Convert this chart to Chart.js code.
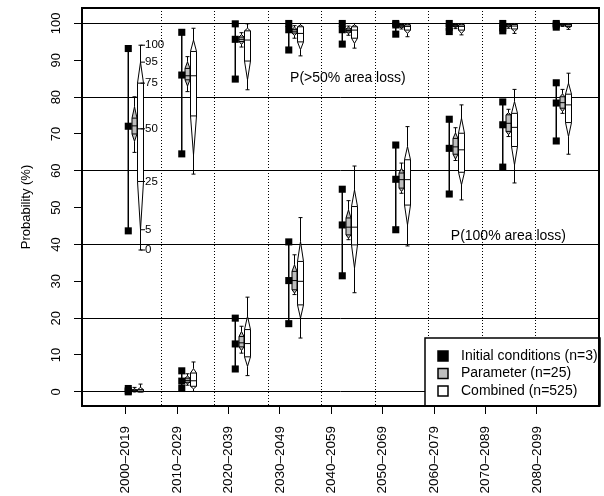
<!DOCTYPE html>
<html>
<head>
<meta charset="utf-8">
<script src="https://cdn.jsdelivr.net/npm/chart.js@4/dist/chart.umd.min.js"></script>
<style>
body { margin: 0; background: #fff; }
#wrap { width: 604px; height: 496px; }
</style>
</head>
<body>
<div id="wrap"><canvas id="myChart"></canvas></div>
<script>
var periods = ["2000–2019", "2010–2029", "2020–2039", "2030–2049", "2040–2059",
    "2050–2069", "2060–2079", "2070–2089", "2080–2099"];

// P(>50% area loss): initial conditions (3 runs each)
var icHalf = [
    [93.2, 72.1, 43.7], [97.6, 86.0, 64.6], [99.9, 95.7, 84.9], [100, 98.3, 92.8], [100, 98.3, 94.4],
    [100, 99.6, 97.1], [100, 99.0, 97.8], [100, 98.8, 98.0], [100, 99.6, 99.0]
];
// quantiles: min, 5, 25, 50, 75, 95, max
var paramHalf = [
    [65.0, 68.0, 70.0, 72.2, 74.3, 77.4, 80.1], [81.5, 83.0, 84.7, 85.8, 87.8, 89.6, 91.0],
    [93.6, 94.3, 95.1, 95.7, 96.3, 97.0, 97.5], [96.0, 96.7, 97.4, 97.9, 98.4, 99.0, 99.4],
    [96.8, 97.3, 97.7, 98.1, 98.5, 99.0, 99.3], [98.5, 98.8, 99.1, 99.4, 99.7, 99.9, 100],
    [98.6, 98.9, 99.2, 99.5, 99.7, 99.9, 100], [98.7, 99.0, 99.3, 99.6, 99.8, 99.9, 100],
    [99.2, 99.4, 99.6, 99.8, 99.9, 100, 100]
];
var combHalf = [
    [38.5, 44.0, 57.1, 71.4, 83.8, 89.5, 94.1], [59.1, 64.3, 74.9, 85.8, 92.4, 95.5, 98.7],
    [82.0, 84.7, 89.8, 95.5, 98.0, 98.7, 99.9], [91.2, 92.9, 95.0, 97.3, 99.1, 99.6, 100],
    [93.3, 94.6, 96.0, 98.2, 99.1, 99.6, 100], [96.4, 97.3, 98.2, 99.2, 99.6, 99.9, 100],
    [96.9, 97.3, 98.2, 99.2, 99.6, 99.9, 100], [97.3, 97.8, 98.5, 99.3, 99.7, 99.9, 100],
    [98.4, 98.8, 99.2, 99.6, 99.8, 99.9, 100]
];

// P(100% area loss)
var icFull = [
    [0, 0.3, 0.9], [0.9, 2.9, 5.7], [6.2, 13.0, 20.0], [18.5, 30.2, 40.7], [31.5, 45.3, 55.0],
    [44.0, 57.7, 67.0], [53.7, 66.1, 74.0], [61.0, 72.5, 78.7], [68.1, 78.4, 83.9]
];
var paramFull = [
    [0, 0, 0.1, 0.3, 0.5, 0.8, 1.2], [1.8, 2.2, 2.6, 3.1, 3.7, 4.3, 4.9],
    [10.5, 11.2, 12.2, 13.3, 15.0, 16.4, 17.8], [26.4, 26.8, 27.7, 30.2, 32.7, 34.5, 37.2],
    [41.3, 41.7, 42.6, 44.7, 47.2, 49.4, 51.9], [53.9, 54.4, 55.3, 57.6, 59.4, 60.7, 62.1],
    [62.8, 63.2, 64.5, 66.5, 68.8, 70.3, 71.7], [69.3, 69.8, 70.7, 72.9, 75.2, 75.8, 76.7],
    [75.6, 76.1, 77.0, 78.5, 80.1, 80.9, 82.1]
];
var combFull = [
    [0, 0, 0, 0.2, 0.6, 1.2, 2.1], [0.1, 0.8, 1.5, 3.0, 5.1, 6.3, 8.1],
    [4.4, 6.9, 9.5, 13.1, 16.9, 20.5, 25.7], [14.6, 20.0, 23.6, 30.0, 35.4, 40.8, 47.3],
    [26.9, 33.6, 39.9, 44.7, 50.3, 54.8, 61.3], [39.6, 45.3, 50.7, 57.6, 63.0, 66.6, 72.0],
    [52.1, 56.2, 59.6, 65.7, 70.2, 74.3, 77.9], [56.7, 61.6, 66.6, 71.8, 75.6, 78.8, 82.1],
    [64.5, 69.3, 73.1, 77.9, 80.8, 83.8, 86.5]
];

var yTicks = [0, 10, 20, 30, 40, 50, 60, 70, 80, 90, 100];
var refLines = [0, 20, 40, 60, 80, 100];
var pctLabels = ["0", "5", "25", "50", "75", "95", "100"];
var notes = ["P(>50% area loss)", "P(100% area loss)"];
var legendLabels = ["Initial conditions (n=3)", "Parameter (n=25)", "Combined (n=525)"];

var FONT = "'Liberation Sans', Arial, sans-serif";
var IC_OFF = -0.105, COMB_OFF = 0.11;

// axis labels sit on a slightly tighter spacing than the groups (as in the original figure)
var tickPos = periods.map(function (p, i) { return -0.155 + 0.961 * i; });

function icPoints() {
    var pts = [];
    [icHalf, icFull].forEach(function (set) {
        set.forEach(function (vals, i) {
            vals.forEach(function (v) { pts.push({ x: i + IC_OFF, y: v }); });
        });
    });
    return pts;
}

function drawBox(ctx, xs, ys, x, q, hw, fill) {
    var px = Math.round(xs.getPixelForValue(x)) + 0.5;
    var p = q.map(function (v) { return ys.getPixelForValue(v); });
    ctx.beginPath();
    ctx.moveTo(px, p[0]); ctx.lineTo(px, p[1]);
    ctx.moveTo(px, p[5]); ctx.lineTo(px, p[6]);
    ctx.moveTo(px - 2, p[0]); ctx.lineTo(px + 2, p[0]);
    ctx.moveTo(px - 2, p[6]); ctx.lineTo(px + 2, p[6]);
    ctx.stroke();
    ctx.beginPath();
    ctx.moveTo(px, p[1]);
    ctx.lineTo(px + hw, p[2]);
    ctx.lineTo(px + hw, p[4]);
    ctx.lineTo(px, p[5]);
    ctx.lineTo(px - hw, p[4]);
    ctx.lineTo(px - hw, p[2]);
    ctx.closePath();
    ctx.fillStyle = fill;
    ctx.fill();
    ctx.stroke();
    ctx.beginPath();
    [2, 3, 4].forEach(function (k) {
        ctx.moveTo(px - hw, p[k]); ctx.lineTo(px + hw, p[k]);
    });
    ctx.stroke();
}

var boxPlugin = {
    id: 'boxes',
    beforeDatasetsDraw: function (chart) {
        var ctx = chart.ctx, xs = chart.scales.x, ys = chart.scales.y, area = chart.chartArea;
        ctx.save();
        // dotted separators between periods
        ctx.strokeStyle = '#000';
        ctx.lineWidth = 1;
        ctx.setLineDash([1, 2]);
        for (var i = 0; i < periods.length - 1; i++) {
            var px = Math.round(xs.getPixelForValue(i + 0.5)) + 0.5;
            ctx.beginPath();
            ctx.moveTo(px, area.top);
            ctx.lineTo(px, area.bottom);
            ctx.stroke();
        }
        ctx.setLineDash([]);

        ctx.fillStyle = '#000';
        ctx.font = '14px ' + FONT;
        ctx.textAlign = 'center';
        ctx.textBaseline = 'middle';
        ctx.fillText(notes[0], xs.getPixelForValue(4.0), ys.getPixelForValue(85.2));
        ctx.fillText(notes[1], xs.getPixelForValue(7.0), ys.getPixelForValue(42.2));

        [[icHalf, paramHalf, combHalf], [icFull, paramFull, combFull]].forEach(function (s) {
            ctx.strokeStyle = '#000';
            ctx.lineWidth = 1.5;
            s[0].forEach(function (vals, i) {
                var px = xs.getPixelForValue(i + IC_OFF);
                ctx.beginPath();
                ctx.moveTo(px, ys.getPixelForValue(Math.max.apply(null, vals)));
                ctx.lineTo(px, ys.getPixelForValue(Math.min.apply(null, vals)));
                ctx.stroke();
            });
            ctx.lineWidth = 1;
            s[1].forEach(function (q, i) { drawBox(ctx, xs, ys, i, q, 2.5, '#bebebe'); });
            s[2].forEach(function (q, i) { drawBox(ctx, xs, ys, i + COMB_OFF, q, 3, '#fff'); });
        });
        ctx.restore();
    },
    afterDraw: function (chart) {
        var ctx = chart.ctx, xs = chart.scales.x, ys = chart.scales.y, a = chart.chartArea;
        ctx.save();
        // y tick labels, parallel to the axis
        ctx.fillStyle = '#000';
        ctx.font = '13px ' + FONT;
        ctx.textAlign = 'center';
        ctx.textBaseline = 'middle';
        ys.ticks.forEach(function (t) {
            ctx.save();
            ctx.translate(a.left - 26, ys.getPixelForValue(t.value));
            ctx.rotate(-Math.PI / 2);
            ctx.fillText(String(t.value), 0, 0);
            ctx.restore();
        });

        // percentile key beside the first combined box
        var cx = Math.round(xs.getPixelForValue(COMB_OFF)) + 0.5;
        ctx.strokeStyle = '#000';
        ctx.lineWidth = 1;
        ctx.font = '11.5px ' + FONT;
        ctx.textAlign = 'left';
        combHalf[0].forEach(function (v, k) {
            var py = ys.getPixelForValue(v);
            ctx.beginPath();
            ctx.moveTo(cx, py);
            ctx.lineTo(cx + 4.5, py);
            ctx.stroke();
            ctx.fillText(pctLabels[k], cx + 4.5, py);
        });

        // legend
        var lw = 175, lh = 68, lx = a.right - lw + 1, ly = a.bottom - lh;
        ctx.fillStyle = '#fff';
        ctx.fillRect(lx, ly, lw, lh);
        ctx.lineWidth = 1.5;
        ctx.strokeRect(lx, ly, lw, lh);
        var fills = ['#000', '#bebebe', '#fff'];
        ctx.font = '14px ' + FONT;
        legendLabels.forEach(function (t, k) {
            var cy = ly + 18 + k * 17.5;
            ctx.fillStyle = fills[k];
            ctx.fillRect(lx + 13, cy - 5, 10, 10);
            ctx.lineWidth = 1.5;
            ctx.strokeRect(lx + 13, cy - 5, 10, 10);
            ctx.fillStyle = '#000';
            ctx.fillText(t, lx + 36, cy);
        });

        // plot frame
        ctx.lineWidth = 2;
        ctx.strokeStyle = '#000';
        ctx.strokeRect(a.left, a.top, a.right - a.left, a.bottom - a.top);
        ctx.restore();
    }
};

var ctx = document.getElementById('myChart').getContext('2d');
var chart = new Chart(ctx, {
    type: 'scatter',
    data: {
        datasets: [{
            label: legendLabels[0],
            data: icPoints(),
            pointStyle: 'rect',
            pointRadius: 5,
            pointBorderWidth: 0,
            backgroundColor: '#000',
            borderColor: '#000'
        }]
    },
    options: {
        responsive: true,
        maintainAspectRatio: false,
        animation: false,
        layout: { padding: { top: 8, right: 4, left: 0, bottom: 0 } },
        plugins: {
            legend: { display: false },
            tooltip: { enabled: false }
        },
        scales: {
            x: {
                type: 'linear',
                min: -0.97,
                max: 8.694,
                afterBuildTicks: function (scale) {
                    scale.ticks = tickPos.map(function (v) { return { value: v }; });
                },
                afterFit: function (scale) { scale.height = 90; },
                border: { display: false },
                grid: {
                    display: true,
                    drawOnChartArea: false,
                    drawTicks: true,
                    tickLength: 8,
                    tickColor: '#000'
                },
                ticks: {
                    autoSkip: false,
                    minRotation: 90,
                    maxRotation: 90,
                    padding: 12,
                    color: '#000',
                    font: { family: FONT, size: 13.5 },
                    callback: function (value, index) { return periods[index]; }
                }
            },
            y: {
                min: -3.85,
                max: 104.2,
                afterBuildTicks: function (scale) {
                    scale.ticks = yTicks.map(function (v) { return { value: v }; });
                },
                afterFit: function (scale) { scale.width = 82; },
                border: { display: false },
                grid: {
                    color: function (c) {
                        return c.tick && refLines.indexOf(c.tick.value) >= 0 ? '#000' : 'rgba(0,0,0,0)';
                    },
                    tickColor: '#000',
                    tickLength: 8,
                    lineWidth: 1
                },
                ticks: { display: false },
                title: {
                    display: true,
                    text: 'Probability (%)',
                    color: '#000',
                    font: { family: FONT, size: 13 },
                    padding: { top: 19, bottom: 0 }
                }
            }
        }
    },
    plugins: [boxPlugin]
});
</script>
</body>
</html>
